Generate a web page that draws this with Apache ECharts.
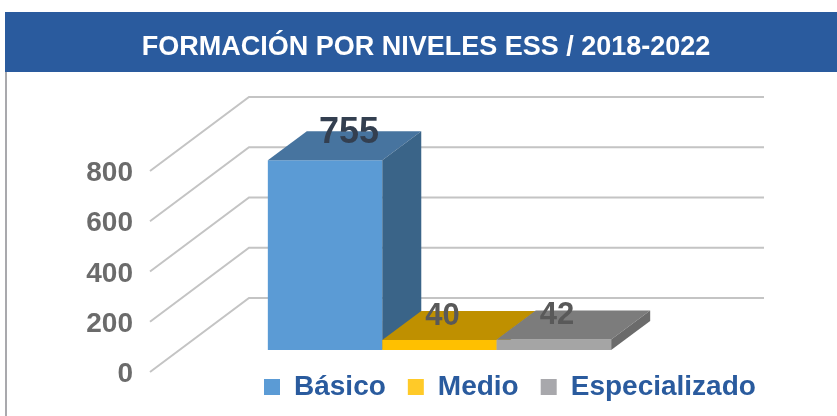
<!DOCTYPE html>
<html>
<head>
<meta charset="utf-8">
<style>
  html, body { margin: 0; padding: 0; background: #fff; }
  #chart { width: 837px; height: 416px; }
</style>
<script src="https://cdn.jsdelivr.net/npm/echarts@6/dist/echarts.min.js"></script>
</head>
<body>
<div id="chart"></div>
<script>
// datos
const categories = ['2018-2022'];
const seriesNames = ['Básico', 'Medio', 'Especializado'];
const basico = [755];
const medio = [40];
const especializado = [42];
const yTicks = [0, 200, 400, 600, 800];

// colores de cada barra: frente, tapa, lado
const colors = [
  { front: '#5b9bd5', top: '#47749f', side: '#3a6488', legend: '#5b9bd5', label: '#333f50', size: 36, dx: 24, dy: -27 },
  { front: '#ffc000', top: '#bf9000', side: '#a87f00', legend: '#ffca28', label: '#595959', size: 31, dx: 3, dy: -23 },
  { front: '#a5a5a5', top: '#7c7c7c', side: '#6b6b6b', legend: '#a8a8ac', label: '#595959', size: 31, dx: 3, dy: -24 }
];

const font = '"Liberation Sans", Arial, sans-serif';
// profundidad del falso 3D
const wallX = 99, wallY = -74;     // del frente del eje a la pared del fondo
const barX = 32, barY = -22;       // del frente del eje a la cara de la barra
const depthX = 39, depthY = -29;   // grosor de la barra

function renderGrid(params, api) {
  const p = api.coord([0, api.value(0)]);
  const band = api.size([1, 0])[0];
  const x0 = p[0] - band / 2;
  return {
    type: 'polyline',
    shape: { points: [[x0, p[1]], [x0 + wallX, p[1] + wallY], [x0 + band + wallX, p[1] + wallY]] },
    style: { stroke: '#c4c4c4', lineWidth: 2, fill: null }
  };
}

function renderBar(idx) {
  return function (params, api) {
    const c = colors[idx];
    const base = api.coord([api.value(0), 0]);
    const tip = api.coord([api.value(0), api.value(1)]);
    const w = api.size([1, 0])[0] / 1.5 / 3;
    const l = base[0] - 1.5 * w + idx * w + barX;
    const r = l + w;
    const b = base[1] + barY;
    const t = tip[1] + barY;
    return {
      type: 'group',
      children: [
        { type: 'polygon', shape: { points: [[l, t], [r, t], [r, b], [l, b]] }, style: { fill: c.front } },
        { type: 'polygon', shape: { points: [[l, t], [r, t], [r + depthX, t + depthY], [l + depthX, t + depthY]] }, style: { fill: c.top } },
        { type: 'polygon', shape: { points: [[r, t], [r + depthX, t + depthY], [r + depthX, b + depthY], [r, b]] }, style: { fill: c.side } },
        {
          type: 'text',
          z2: 10,
          style: {
            text: String(api.value(1)),
            x: (l + r) / 2 + c.dx,
            y: t + c.dy,
            align: 'center',
            verticalAlign: 'middle',
            font: 'bold ' + c.size + 'px ' + font,
            fill: c.label
          }
        }
      ]
    };
  };
}

const barValues = [basico, medio, especializado];

const chart = echarts.init(document.getElementById('chart'));
chart.setOption({
  animation: false,
  backgroundColor: '#fff',
  title: {
    text: 'FORMACIÓN POR NIVELES ESS / 2018-2022',
    left: 421,
    top: 29,
    textAlign: 'center',
    textStyle: { color: '#fff', fontFamily: font, fontWeight: 'bold', fontSize: 27 }
  },
  graphic: [
    { type: 'rect', z: -1, shape: { x: 5, y: 12, width: 832, height: 60 }, style: { fill: '#2a5b9e' } },
    { type: 'rect', z: -1, shape: { x: 5, y: 72, width: 2, height: 344 }, style: { fill: '#a9a9ad' } }
  ],
  legend: {
    left: 259,
    top: 368,
    itemWidth: 16,
    itemHeight: 16,
    itemGap: 22,
    icon: 'rect',
    data: seriesNames,
    textStyle: { color: '#2a5b9e', fontFamily: font, fontWeight: 'bold', fontSize: 28, padding: [0, 0, 0, 9] }
  },
  grid: { left: 150, top: 171, width: 515, height: 201 },
  xAxis: { type: 'category', data: categories, show: false },
  yAxis: {
    type: 'value',
    min: 0,
    max: 800,
    interval: 200,
    axisLine: { show: false },
    axisTick: { show: false },
    splitLine: { show: false },
    axisLabel: { margin: 17, color: '#6b6b6b', fontFamily: font, fontWeight: 'bold', fontSize: 28, verticalAlign: 'top', lineHeight: 5 }
  },
  series: [
    {
      type: 'custom',
      name: 'rejilla',
      clip: false,
      silent: true,
      coordinateSystem: 'cartesian2d',
      renderItem: renderGrid,
      encode: { y: 0 },
      data: yTicks.map(v => [v])
    }
  ].concat(seriesNames.map((name, i) => ({
    type: 'custom',
    name: name,
    clip: false,
    itemStyle: { color: colors[i].legend },
    renderItem: renderBar(i),
    encode: { x: 0, y: 1 },
    data: barValues[i].map((v, j) => [j, v])
  })))
});
</script>
</body>
</html>
